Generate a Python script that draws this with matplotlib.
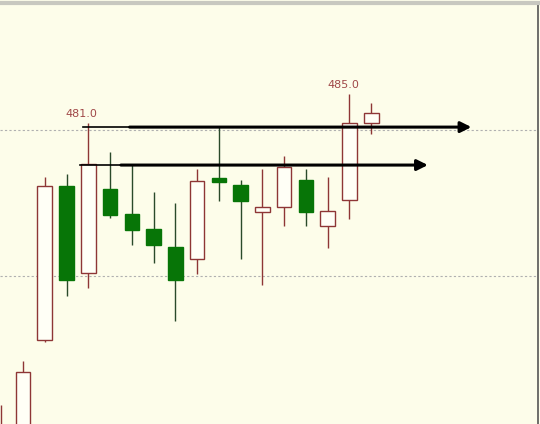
import matplotlib
matplotlib.use("Agg")
import matplotlib.pyplot as plt

# K线数据
opens = [432.0, 436.0, 451.3, 472.4, 460.4, 471.9, 468.5, 466.4, 464.0,
         462.4, 473.4, 472.5, 468.8, 469.4, 473.1, 466.9, 470.4, 480.9]
highs = [442.3, 448.3, 473.5, 474.0, 481.0, 477.0, 475.4, 471.5, 470.0,
         474.6, 480.4, 473.1, 474.6, 476.5, 474.6, 473.5, 485.0, 483.7]
lows = [430.0, 434.0, 450.9, 457.3, 458.4, 467.9, 464.3, 461.8, 453.9,
        460.3, 470.3, 462.4, 458.8, 466.9, 466.9, 463.9, 467.8, 479.4]
closes = [439.2, 446.8, 472.4, 459.4, 475.4, 468.4, 466.3, 464.3, 459.4,
          473.0, 472.9, 470.3, 469.5, 475.0, 468.8, 468.9, 480.9, 482.4]

# 标注的高点: (K线序号, 价格)
marks = [(4, 481.0), (16, 485.0)]
# 手画的箭头: (起点x, 变粗处x, 终点x, 价格)
arrows = [(3.76, 5.9, 21.6, 480.4), (3.62, 5.5, 19.6, 475.2)]
grid_levels = [480, 460]

BG = "#fdfdea"
RED = "#8e3636"
GREEN = "#077507"
GREEN_WICK = "#2a4a2a"
BODY_W = 0.67

fig = plt.figure(figsize=(5.4, 4.24), dpi=100)
fig.patch.set_facecolor(BG)
ax = fig.add_axes([0, 0, 538 / 540, 421 / 424])
ax.set_facecolor(BG)
ax.set_xlim(-0.055, 24.66)
ax.set_ylim(439.73, 497.4)
ax.set_xticks([])
ax.set_yticks([])
for side in ("left", "bottom"):
    ax.spines[side].set_visible(False)
ax.spines["right"].set_color("#555555")
ax.spines["right"].set_linewidth(1.2)
ax.spines["top"].set_color("#c8c8c0")
ax.spines["top"].set_linewidth(3)

for lv in grid_levels:
    ax.axhline(lv, color="#b0b0b0", lw=0.8, ls=(0, (2, 2)), zorder=0)

for i, (o, h, l, c) in enumerate(zip(opens, highs, lows, closes)):
    up = c >= o
    ax.vlines(i, l, h, color=RED if up else GREEN_WICK, lw=1.0, zorder=2)
    ax.bar(i, abs(c - o), BODY_W, bottom=min(o, c),
           facecolor="#fffff6" if up else GREEN,
           edgecolor=RED if up else GREEN, linewidth=1.0, zorder=3)

for i, price in marks:
    ax.text(i - 0.3, price + 0.55, f"{price:.1f}", ha="center", va="bottom",
            fontsize=8, color="#a04848", zorder=5)

for x0, xm, x1, y in arrows:
    ax.plot([x0, xm], [y, y], color="black", lw=1.2, zorder=6)
    ax.annotate("", xy=(x1, y), xytext=(xm, y),
                arrowprops=dict(arrowstyle="-|>", color="black", lw=2.2,
                                mutation_scale=16, shrinkA=0, shrinkB=0),
                zorder=6)

fig.savefig("out.png", dpi=100, facecolor=BG)
